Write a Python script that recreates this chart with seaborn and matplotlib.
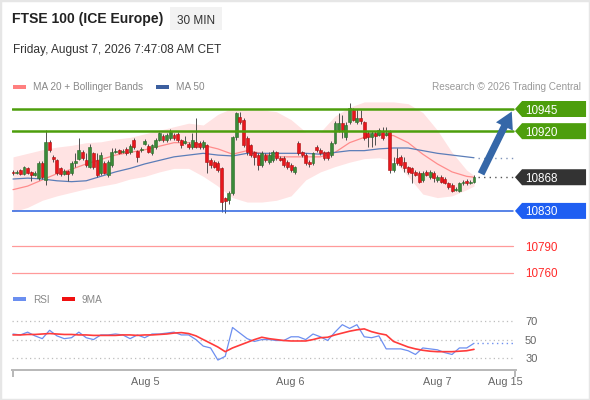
import numpy as np
import matplotlib
matplotlib.use('Agg')
import matplotlib.pyplot as plt
import seaborn as sns
from matplotlib.patches import Polygon, Rectangle, FancyArrowPatch
from matplotlib.transforms import blended_transform_factory

# ---- 30 min candles (FTSE 100 ICE) ----
opens = [10874, 10873, 10876, 10872, 10878, 10874, 10871, 10867, 10884, 10865,
         10908, 10891, 10887, 10878, 10872, 10875, 10873, 10884, 10889, 10897,
         10887, 10880, 10895, 10887, 10873, 10884, 10871, 10882, 10896, 10899,
         10897, 10900, 10896,
         10910, 10898, 10899, 10906, 10903, 10895, 10902, 10910, 10914, 10910,
         10912, 10916, 10917, 10910, 10907, 10906, 10902, 10908, 10907, 10902,
         10904, 10887, 10885, 10884, 10878, 10845, 10842, 10850, 10913, 10936,
         10933, 10912, 10904, 10896, 10893, 10882, 10893, 10885, 10887, 10896,
         10890, 10890, 10885, 10882, 10874, 10907, 10896, 10893, 10885, 10884,
         10902, 10899, 10896, 10896, 10893, 10907, 10921, 10929, 10913, 10930,
         10944, 10930, 10935, 10930, 10918, 10913, 10918, 10916, 10919, 10916,
         10919, 10876, 10890, 10891, 10885, 10879, 10878, 10874, 10873, 10865,
         10874, 10868, 10873, 10865, 10868, 10866, 10861, 10859, 10854, 10853,
         10861, 10864, 10862, 10863]
highs = [10876, 10876, 10877, 10881, 10880, 10875, 10875, 10886, 10886, 10921,
         10910, 10893, 10889, 10880, 10877, 10876, 10886, 10895, 10912, 10899,
         10895, 10906, 10897, 10895, 10896, 10886, 10887, 10901, 10901, 10900,
         10900, 10902, 10905,
         10912, 10899, 10902, 10911, 10905, 10906, 10912, 10919, 10917, 10918,
         10922, 10918, 10919, 10911, 10915, 10908, 10918, 10935, 10909, 10910,
         10906, 10890, 10887, 10886, 10880, 10846, 10853, 10915, 10942, 10942,
         10935, 10914, 10906, 10898, 10895, 10898, 10895, 10896, 10899, 10898,
         10892, 10892, 10887, 10884, 10881, 10909, 10898, 10895, 10887, 10897,
         10904, 10901, 10898, 10898, 10909, 10931, 10941, 10938, 10930, 10952,
         10946, 10945, 10944, 10932, 10920, 10920, 10920, 10923, 10925, 10925,
         10921, 10891, 10901, 10893, 10891, 10881, 10880, 10876, 10875, 10875,
         10876, 10876, 10875, 10870, 10870, 10868, 10863, 10861, 10857, 10863,
         10865, 10866, 10865, 10870]
lows = [10871, 10872, 10871, 10871, 10872, 10864, 10869, 10865, 10866, 10859,
        10896, 10885, 10871, 10869, 10870, 10864, 10871, 10879, 10887, 10888,
        10879, 10878, 10877, 10868, 10870, 10872, 10868, 10880, 10895, 10894,
        10895, 10893, 10894,
        10900, 10885, 10897, 10904, 10895, 10893, 10900, 10909, 10908, 10908,
        10910, 10910, 10908, 10901, 10905, 10900, 10900, 10901, 10900, 10900,
        10873, 10878, 10878, 10874, 10829, 10828, 10838, 10848, 10910, 10928,
        10902, 10893, 10891, 10882, 10876, 10880, 10885, 10883, 10885, 10888,
        10886, 10880, 10877, 10874, 10872, 10893, 10891, 10882, 10880, 10882,
        10897, 10893, 10888, 10887, 10891, 10905, 10919, 10912, 10910, 10928,
        10931, 10928, 10928, 10910, 10902, 10902, 10904, 10914, 10910, 10914,
        10873, 10874, 10882, 10880, 10874, 10872, 10861, 10869, 10861, 10863,
        10869, 10866, 10863, 10863, 10861, 10860, 10855, 10851, 10852, 10851,
        10859, 10859, 10860, 10861]
closes = [10873, 10874, 10872, 10879, 10873, 10871, 10873, 10884, 10868, 10908,
          10899, 10889, 10873, 10872, 10875, 10872, 10884, 10886, 10899, 10890,
          10882, 10902, 10879, 10871, 10893, 10873, 10885, 10896, 10898, 10895,
          10898, 10895, 10903,
          10902, 10891, 10900, 10909, 10897, 10904, 10910, 10918, 10910, 10916,
          10919, 10912, 10910, 10904, 10909, 10902, 10910, 10902, 10902, 10908,
          10885, 10882, 10880, 10876, 10840, 10841, 10850, 10913, 10940, 10930,
          10904, 10896, 10893, 10891, 10882, 10895, 10887, 10893, 10896, 10890,
          10888, 10882, 10879, 10876, 10879, 10895, 10893, 10884, 10883, 10895,
          10899, 10895, 10890, 10890, 10907, 10929, 10929, 10921, 10927, 10946,
          10933, 10935, 10931, 10912, 10913, 10918, 10915, 10921, 10912, 10918,
          10876, 10884, 10884, 10882, 10878, 10874, 10873, 10871, 10863, 10873,
          10871, 10874, 10867, 10868, 10863, 10862, 10857, 10853, 10855, 10861,
          10863, 10861, 10863, 10868]

# moving averages / bollinger bands, every 4th candle
ma_idx = list(range(0, 125, 4)) + [126]
ma20 = [10854, 10858, 10865, 10872, 10877, 10883, 10888, 10893, 10896, 10899,
        10903, 10907, 10907, 10904, 10900, 10894, 10898, 10895, 10891, 10891,
        10891, 10891, 10896, 10907, 10913, 10916, 10915, 10907, 10894, 10883,
        10874, 10869, 10868]
ma50 = [10866, 10867, 10866, 10864, 10863, 10864, 10869, 10874, 10878, 10883,
        10887, 10891, 10893, 10895, 10893, 10892, 10895, 10895, 10895, 10895,
        10895, 10894, 10896, 10898, 10898, 10900, 10901, 10901, 10898, 10895,
        10893, 10891, 10890]
bb_upper = [10891, 10895, 10899, 10902, 10904, 10907, 10908, 10911, 10913, 10917,
            10921, 10925, 10929, 10927, 10939, 10946, 10944, 10944, 10942, 10933,
            10919, 10919, 10937, 10947, 10953, 10953, 10953, 10951, 10941, 10921,
            10896, 10876, 10870]
bb_lower = [10829, 10834, 10842, 10847, 10851, 10855, 10858, 10861, 10866, 10869,
            10874, 10878, 10878, 10869, 10858, 10845, 10840, 10840, 10842, 10847,
            10865, 10874, 10880, 10885, 10889, 10890, 10887, 10869, 10849, 10845,
            10847, 10854, 10858]

# RSI and its 9 period MA, every 2nd candle
rsi_idx = list(range(0, 127, 2))
rsi = [56, 55, 58, 54, 51, 60, 54, 51, 52, 58, 52, 50, 55, 55, 56, 55, 51, 55, 52, 56,
       56, 57, 58, 55, 55, 50, 43, 41, 28, 32, 63, 57, 51, 48, 50, 50, 49, 49, 53, 53,
       50, 56, 53, 49, 58, 66, 62, 66, 53, 52, 54, 40, 40, 40, 38, 34, 41, 40, 39, 36,
       34, 41, 41, 46]
rsi_ma9 = [55, 55, 55.5, 55.5, 56, 56.5, 56, 55.5, 55.5, 55, 55, 54.5, 54.5, 54.5, 54.5,
           55, 55, 54.5, 55, 55, 55.5, 56, 57, 57.5, 56.5, 54, 50, 46, 42, 37, 41, 44,
           47, 50, 52.5, 51, 50, 49, 48.5, 48.5, 48.5, 50, 52, 52.5, 55, 57, 59, 60.5,
           61.5, 58.5, 56.5, 55, 48, 45, 42, 40, 38.5, 37.5, 37, 37, 37, 37.5, 38, 39.5]

# key levels
resistances = [10945, 10920]
last_price = 10868
supports = [10830]
targets_low = [10790, 10760]
target_up = 10945

date_labels = ['Aug 5', 'Aug 6', 'Aug 7', 'Aug 15']
date_pos = [36.3, 75.7, 115.9, 134.5]

GREEN = '#4d9e0c'
BLUE = '#1f5ff2'
C_UP = '#3a8a38'
C_DN = '#e8161c'

W, H = 590, 400


def fx(px):
    return px / W


def fy(py):
    return 1 - py / H


sns.set_theme(style='white')
plt.rcParams['font.family'] = ['Liberation Sans', 'DejaVu Sans']

fig = plt.figure(figsize=(5.9, 4.0), dpi=100)
fig.patch.set_facecolor('white')
fig.add_artist(Rectangle((0, 0), 1, 1, transform=fig.transFigure, fill=False,
                         edgecolor='#e6e6e6', lw=2.5))

n = len(closes)
step = (474 - 13) / (n - 1)          # pixels per candle
xlim = (-1 / step, 503 / step)
line_end = (513 - 12) / 504           # fraction of the axes
x_end = xlim[0] + line_end * (xlim[1] - xlim[0])

# ---------------- price panel ----------------
ax = fig.add_axes([fx(12), fy(285), fx(516) - fx(12), fy(95) - fy(285)])
ax.set_xlim(*xlim)
ax.set_ylim(10746.4, 10960.8)
ax.axis('off')

ax.fill_between(ma_idx, bb_lower, bb_upper, color='#ffe3e3', lw=0, zorder=1)
sns.lineplot(x=ma_idx, y=ma20, ax=ax, color='#ff8c8c', lw=0.9, zorder=2)
sns.lineplot(x=ma_idx, y=ma50, ax=ax, color='#5b7db8', lw=0.9, zorder=2)
ax.plot([ma_idx[-1] + 1, x_end], [ma50[-1], ma50[-1]], color='#7f93b8',
        ls=(0, (1, 3)), lw=1, zorder=2)

x = np.arange(n)
o, h, l, c = map(np.array, (opens, highs, lows, closes))
up = c >= o
ax.vlines(x, l, h, color='#505050', lw=0.7, zorder=3)
ax.bar(x, np.maximum(np.abs(c - o), 0.9), bottom=np.minimum(o, c), width=0.8,
       color=np.where(up, C_UP, C_DN), edgecolor=np.where(up, '#2a6a2a', '#a81010'),
       linewidth=0.4, zorder=4)

for lv in resistances:
    ax.axhline(lv, xmin=0, xmax=line_end, color=GREEN, lw=1.8, zorder=5)
for lv in supports:
    ax.axhline(lv, xmin=0, xmax=line_end, color='#2a62e0', lw=1.1, zorder=5)
for lv in targets_low:
    ax.axhline(lv, xmin=0, xmax=line_end, color='#ff9a9a', lw=0.9, zorder=5)
ax.plot([n, x_end], [last_price, last_price], color='#555555', ls=(0, (1, 3)),
        lw=1, zorder=5)

bt = blended_transform_factory(ax.transAxes, ax.transData)
half = 8 * (10960.8 - 10746.4) / 190


def tag(level, color):
    pts = [(0.998, level), (1.012, level + half), (1.139, level + half),
           (1.139, level - half), (1.012, level - half)]
    ax.add_patch(Polygon(pts, closed=True, transform=bt, clip_on=False,
                         facecolor=color, edgecolor='none', zorder=6))
    ax.text(1.018, level, f'{level}', transform=bt, va='center_baseline', ha='left',
            color='white', fontsize=8.4, clip_on=False, zorder=7)


for lv in resistances:
    tag(lv, GREEN)
tag(last_price, '#333333')
for lv in supports:
    tag(lv, BLUE)
for lv in targets_low:
    ax.text(1.018, lv, f'{lv}', transform=bt, va='center_baseline', ha='left',
            color='#ff2a2a', fontsize=8.4, clip_on=False)

arrow = FancyArrowPatch((n + 0.6, last_price + 1), (x_end, target_up),
                        arrowstyle='simple,head_width=1.35,head_length=1.2,tail_width=0.52',
                        mutation_scale=10, color='#3567a8', lw=0, zorder=8,
                        clip_on=False)
ax.add_patch(arrow)

# ---------------- RSI panel ----------------
ax2 = fig.add_axes([fx(12), fy(370), fx(516) - fx(12), fy(310) - fy(370)])
ax2.set_xlim(*xlim)
ax2.set_ylim(17.3, 81.8)
for s in ['top', 'right', 'left']:
    ax2.spines[s].set_visible(False)
ax2.spines['bottom'].set_color('#b8b8b8')
ax2.spines['bottom'].set_linewidth(1.4)
ax2.set_yticks([])
ax2.set_facecolor('none')

bt2 = blended_transform_factory(ax2.transAxes, ax2.transData)
for v in [70, 50, 30]:
    ax2.axhline(v, xmin=0, xmax=line_end, color='#bdbdbd', ls=(0, (1, 2.5)), lw=0.9)
    ax2.text(1.018, v, str(v), transform=bt2, va='center_baseline', ha='left',
             color='#666666', fontsize=8, clip_on=False)

sns.lineplot(x=rsi_idx, y=rsi, ax=ax2, color='#6d8ff0', lw=0.9)
sns.lineplot(x=rsi_idx, y=rsi_ma9, ax=ax2, color='#ff3b3b', lw=1.2)
ax2.plot([rsi_idx[-1] + 0.8, x_end], [rsi[-1], rsi[-1]], color='#6d8ff0',
         ls=(0, (1, 2.5)), lw=1)

ax2.set_xticks([xlim[0] + 0.15, xlim[1] - 0.15])
ax2.set_xticklabels(['', ''])
ax2.tick_params(axis='x', which='major', bottom=True, length=5, width=1.4,
                color='#b8b8b8', direction='out')
ax2.set_xticks(date_pos, minor=True)
ax2.set_xticklabels(date_labels, minor=True)
ax2.tick_params(axis='x', which='minor', bottom=True, length=0, pad=5,
                labelsize=7.8, labelcolor='#666666')
ax2.set_xlabel('')
ax2.set_ylabel('')
ax.set_xlabel('')
ax.set_ylabel('')

# ---------------- header and legends ----------------
fig.text(fx(12), fy(19), 'FTSE 100 (ICE Europe)', fontsize=10.1, weight='bold',
         color='#222222', va='center', ha='left')
fig.add_artist(Rectangle((fx(170), fy(30)), 52 / W, 23 / H, transform=fig.transFigure,
                         facecolor='#f2f2f2', edgecolor='none'))
fig.text(fx(196), fy(19), '30 MIN', fontsize=8.5, color='#333333',
         va='center_baseline', ha='center')
fig.text(fx(13), fy(48), 'Friday, August 7, 2026 7:47:08 AM CET', fontsize=8.6,
         color='#333333', va='center_baseline', ha='left')

fig.add_artist(Rectangle((fx(13), fy(89)), 13 / W, 4.5 / H, transform=fig.transFigure,
                         facecolor='#ff7f7f', edgecolor='none'))
fig.text(fx(33), fy(86.5), 'MA 20 + Bollinger Bands', fontsize=7.2, color='#888888',
         va='center_baseline', ha='left')
fig.add_artist(Rectangle((fx(156), fy(89)), 13 / W, 4.5 / H, transform=fig.transFigure,
                         facecolor='#3c5f9f', edgecolor='none'))
fig.text(fx(176), fy(86.5), 'MA 50', fontsize=7.2, color='#888888',
         va='center_baseline', ha='left')
fig.text(fx(581), fy(86.5), 'Research \u00a9 2026 Trading Central', fontsize=7.2,
         color='#999999', va='center_baseline', ha='right')

fig.add_artist(Rectangle((fx(13), fy(301)), 13 / W, 4.5 / H, transform=fig.transFigure,
                         facecolor='#6b8ff0', edgecolor='none'))
fig.text(fx(33), fy(299), 'RSI', fontsize=7.2, color='#888888',
         va='center_baseline', ha='left')
fig.add_artist(Rectangle((fx(62), fy(301)), 13 / W, 4.5 / H, transform=fig.transFigure,
                         facecolor='#f01010', edgecolor='none'))
fig.text(fx(82), fy(299), '9MA', fontsize=7.2, color='#888888',
         va='center_baseline', ha='left')

fig.savefig('out.png', dpi=100, facecolor='white')
